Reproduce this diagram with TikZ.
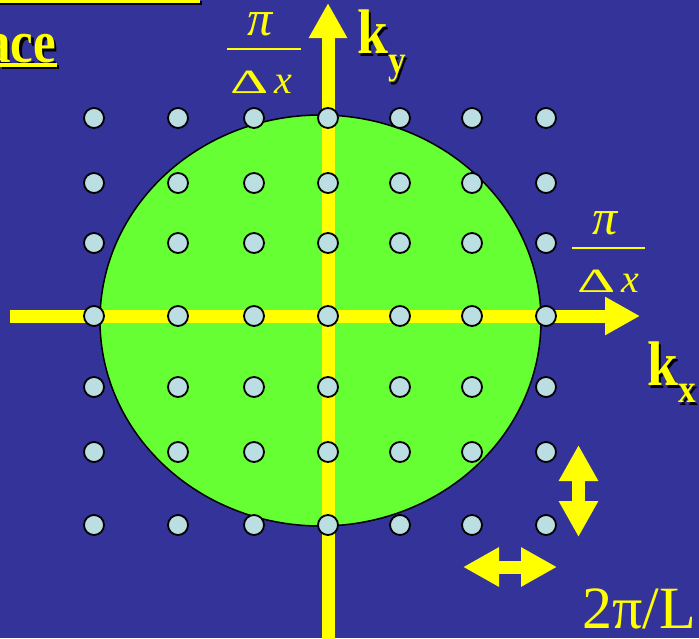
\documentclass[tikz,border=0pt]{standalone}
\usepackage{fontspec}
\newfontfamily\slidefont{Liberation Serif}
\usetikzlibrary{arrows.meta}

\definecolor{slideblue}{RGB}{51,51,153}
\definecolor{kgreen}{RGB}{102,255,51}
\definecolor{kyellow}{RGB}{255,255,0}
\definecolor{kdot}{RGB}{187,222,226}

% yellow text with a black drop shadow
\newcommand{\shadowed}[1]{\leavevmode\rlap{\hspace{3pt}\raisebox{-3pt}{\color{black}#1}}#1}

\tikzset{
  kaxis/.style={kyellow, line width=13pt, -{Triangle[length=35pt,width=36pt]}},
  kstep/.style={kyellow, line width=13pt, {Triangle[length=36pt,width=37pt]}-{Triangle[length=36pt,width=37pt]}},
  kpoint/.style={circle, draw=black, fill=kdot, line width=1.8pt, minimum size=20pt, inner sep=0pt},
  kfrac/.style={text=kyellow, inner sep=0pt, font=\slidefont\fontsize{34}{34}\selectfont},
  klabel/.style={text=kyellow, inner sep=0pt, font=\slidefont\bfseries\fontsize{63}{63}\selectfont},
}

\begin{document}
\begin{tikzpicture}[x=1pt,y=-1pt]
\useasboundingbox (0,0) rectangle (699,638);
\fill[slideblue] (0,0) rectangle (699,638);

% title remains
\fill[black] (0,1) rectangle (202,5);
\fill[kyellow] (0,-1) rectangle (200,3);
\node[klabel, font=\slidefont\bfseries\fontsize{60}{60}\selectfont, anchor=base east] (title) at (56,62) {\scalebox{0.85}[1]{\shadowed{ace}}};
\fill[black] (2,65) rectangle (59,69);
\fill[kyellow] (0,63) rectangle (57,67);

% Fermi sphere
\draw[fill=kgreen, line width=1.5pt] (320.5,320.5) ellipse (220.5 and 205.5);

% axes
\coordinate (kxL) at (10,316);
\coordinate (kxR) at (640,316);
\coordinate (kyB) at (328,645);
\coordinate (kyT) at (328,3);
\draw[kaxis] (kxL) -- (kxR);
\draw[kaxis] (kyB) -- (kyT);

% allowed k points
\foreach \x in {94,178,254,328,400,472,546}
  \foreach \y in {118,183,243,316,387,452,525}
    \node[kpoint] (p-\x-\y) at (\x,\y) {};

% spacing arrows
\coordinate (dyT) at (578.5,445);
\coordinate (dyB) at (578.5,537);
\coordinate (dxL) at (463,567);
\coordinate (dxR) at (557,567);
\draw[kstep] (dyT) -- (dyB);
\draw[kstep] (dxL) -- (dxR);

% labels
\node[kfrac] (piT) at (260,24) {\fontsize{50}{50}\selectfont\itshape π};
\draw[kyellow, line width=2pt] (227,49) -- (301,49);
\node[kfrac] (dxT) at (261,82) {\scalebox{1.75}[1]{Δ}\,{\fontsize{40}{40}\selectfont\itshape x}};

\node[kfrac] (piR) at (605,223) {\fontsize{50}{50}\selectfont\itshape π};
\draw[kyellow, line width=2pt] (572,248) -- (645,248);
\node[kfrac] (dxR) at (608,281) {\scalebox{1.75}[1]{Δ}\,{\fontsize{40}{40}\selectfont\itshape x}};

\node[klabel, anchor=base west] (ky) at (357,53) {\scalebox{0.88}[1]{\shadowed{k}\raisebox{-20pt}{\fontsize{40}{40}\selectfont\shadowed{y}}}};
\node[klabel, anchor=base west] (kx) at (647,385) {\scalebox{0.88}[1]{\shadowed{k}\raisebox{-17pt}{\fontsize{40}{40}\selectfont\shadowed{x}}}};

\node[text=kyellow, inner sep=0pt, font=\slidefont\fontsize{60}{60}\selectfont, anchor=base west] (len) at (582,628) {2π/L};
\end{tikzpicture}
\end{document}
